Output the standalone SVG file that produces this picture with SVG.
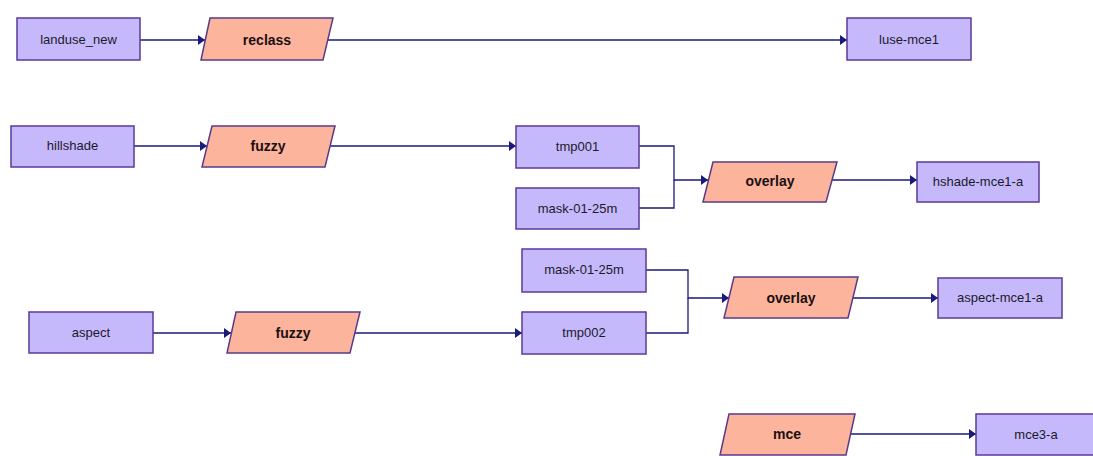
<svg xmlns="http://www.w3.org/2000/svg" width="1093" height="456" viewBox="0 0 1093 456">
<defs>
<marker id="arr" markerUnits="userSpaceOnUse" markerWidth="8" markerHeight="10" refX="7" refY="5" orient="auto">
<path d="M0,0 L7,5 L0,10 Z" fill="#1a1a7a"/>
</marker>
<style>
.data{fill:#c6b9fb;stroke:#5a3a9a;stroke-width:1.5}
.proc{fill:#fdb49c;stroke:#5a3a8a;stroke-width:1.5}
.dt{font-family:"Liberation Sans",Arial,sans-serif;font-size:13px;fill:#1a1a2a;text-anchor:middle}
.pt{font-family:"Liberation Sans",Arial,sans-serif;font-size:14px;font-weight:bold;fill:#1a1010;text-anchor:middle}
.c{fill:none;stroke:#1a1a7a;stroke-width:1.3}
</style>
</defs>
<rect width="1093" height="456" fill="#ffffff"/>
<g id="connectors">
<path class="c" d="M140,40 H205" marker-end="url(#arr)"/>
<path class="c" d="M328,40 H847" marker-end="url(#arr)"/>
<path class="c" d="M134,146 H207" marker-end="url(#arr)"/>
<path class="c" d="M330,146 H516" marker-end="url(#arr)"/>
<path class="c" d="M639,146 H674 V180 H708" marker-end="url(#arr)"/>
<path class="c" d="M639,208 H674 V180"/>
<path class="c" d="M831,180 H917" marker-end="url(#arr)"/>
<path class="c" d="M153,333 H231" marker-end="url(#arr)"/>
<path class="c" d="M355,333 H522" marker-end="url(#arr)"/>
<path class="c" d="M646,270 H688 V298 H729" marker-end="url(#arr)"/>
<path class="c" d="M646,333 H688 V298"/>
<path class="c" d="M853,298 H938" marker-end="url(#arr)"/>
<path class="c" d="M850,434 H976" marker-end="url(#arr)"/>
</g>
<g id="landuse_new"><rect class="data" x="17" y="18" width="123" height="42"/><text class="dt" x="78.5" y="44">landuse_new</text></g>
<g id="reclass"><polygon class="proc" points="210,18 333,18 323,60 201,60"/><text class="pt" x="267" y="45">reclass</text></g>
<g id="luse-mce1"><rect class="data" x="847" y="18" width="124" height="42"/><text class="dt" x="909" y="44">luse-mce1</text></g>
<g id="hillshade"><rect class="data" x="11" y="126" width="123" height="41"/><text class="dt" x="72.5" y="150">hillshade</text></g>
<g id="fuzzy1"><polygon class="proc" points="212,126 335,126 325,167 202,167"/><text class="pt" x="268" y="151">fuzzy</text></g>
<g id="tmp001"><rect class="data" x="516" y="126" width="123" height="42"/><text class="dt" x="577.5" y="151">tmp001</text></g>
<g id="mask1"><rect class="data" x="516" y="188" width="123" height="41"/><text class="dt" x="577.5" y="213">mask-01-25m</text></g>
<g id="overlay1"><polygon class="proc" points="713,162 837,162 826,202 703,202"/><text class="pt" x="770" y="186">overlay</text></g>
<g id="hshade-mce1-a"><rect class="data" x="917" y="162" width="122" height="40"/><text class="dt" x="978" y="186">hshade-mce1-a</text></g>
<g id="mask2"><rect class="data" x="522" y="249" width="124" height="43"/><text class="dt" x="584" y="274">mask-01-25m</text></g>
<g id="tmp002"><rect class="data" x="522" y="312" width="124" height="42"/><text class="dt" x="584" y="337">tmp002</text></g>
<g id="overlay2"><polygon class="proc" points="734,277 858,277 848,318 724,318"/><text class="pt" x="791" y="303">overlay</text></g>
<g id="aspect-mce1-a"><rect class="data" x="938" y="278" width="124" height="40"/><text class="dt" x="1000" y="302">aspect-mce1-a</text></g>
<g id="aspect"><rect class="data" x="29" y="312" width="124" height="41"/><text class="dt" x="91" y="337">aspect</text></g>
<g id="fuzzy2"><polygon class="proc" points="236,312 360,312 350,353 227,353"/><text class="pt" x="293" y="338">fuzzy</text></g>
<g id="mce"><polygon class="proc" points="729,414 855,414 846,455 720,455"/><text class="pt" x="787" y="439">mce</text></g>
<g id="mce3-a"><rect class="data" x="976" y="414" width="123" height="41"/><text class="dt" x="1036" y="439">mce3-a</text></g>
</svg>
